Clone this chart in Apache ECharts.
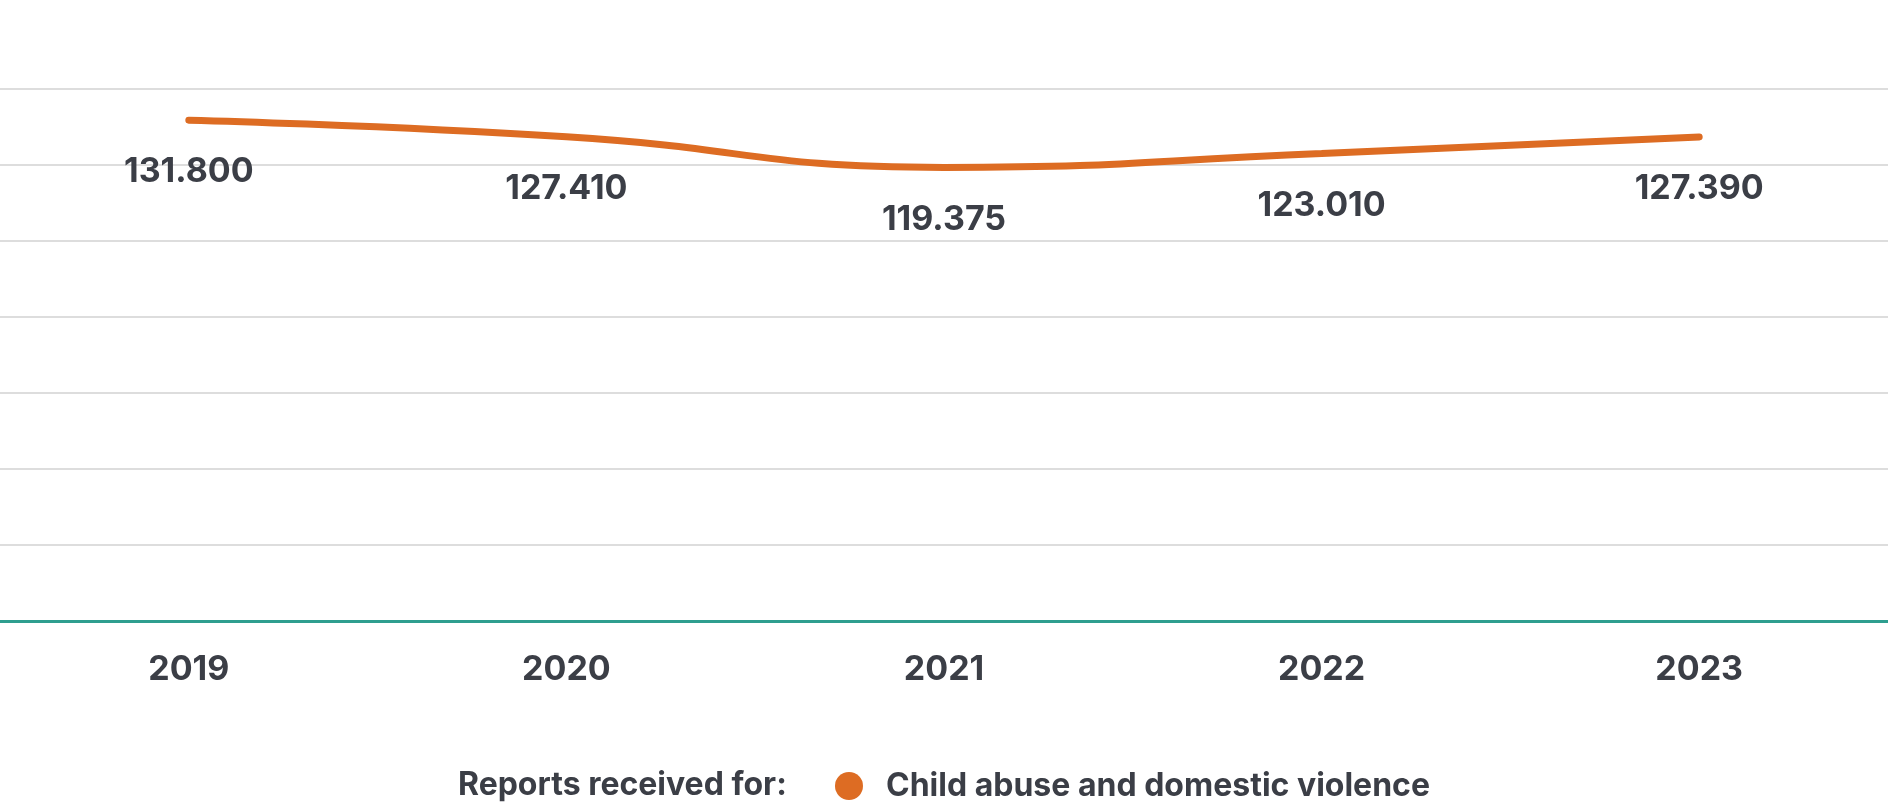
<!DOCTYPE html>
<html>
<head>
<meta charset="utf-8">
<script src="https://cdn.jsdelivr.net/npm/echarts@6/dist/echarts.min.js"></script>
<style>
html,body{margin:0;padding:0;background:#fff;}
#chart{width:1888px;height:803px;}
</style>
</head>
<body>
<div id="chart"></div>
<script>
const categories = ['2019', '2020', '2021', '2022', '2023'];
const reports = [131800, 127410, 119375, 123010, 127390];
const seriesName = 'Child abuse and domestic violence';
const legendTitle = 'Reports received for:';

function fmt(v) {
  return String(v).replace(/\B(?=(\d{3})+(?!\d))/g, '.');
}

const textColor = '#3b3e46';
const lineColor = '#dd6c23';
const fontFamily = 'Inter, "Noto Sans", sans-serif';

const chart = echarts.init(document.getElementById('chart'), null, {renderer: 'canvas'});
chart.setOption({
  backgroundColor: '#ffffff',
  animation: false,
  title: {
    text: legendTitle,
    left: 458,
    top: 767,
    textStyle: {color: textColor, fontFamily: fontFamily, fontWeight: 'bold', fontSize: 32, lineHeight: 36},
    padding: 0
  },
  legend: {
    data: [seriesName],
    left: 835,
    top: 770,
    padding: 0,
    icon: 'circle',
    itemWidth: 28,
    itemHeight: 28,
    selectedMode: false,
    itemStyle: {color: lineColor, opacity: 1},
    textStyle: {color: textColor, fontFamily: fontFamily, fontWeight: 'bold', fontSize: 32, padding: [0, 0, 0, 18]}
  },
  grid: {left: 0, right: 0, top: 89, bottom: 182, containLabel: false},
  xAxis: {
    type: 'category',
    data: categories,
    boundaryGap: true,
    axisLine: {show: true, lineStyle: {color: '#2e9e8f', width: 3}},
    axisTick: {show: false},
    axisLabel: {color: textColor, fontFamily: fontFamily, fontWeight: 'bold', fontSize: 34, margin: 32}
  },
  yAxis: {
    type: 'value',
    min: 0,
    max: 140000,
    interval: 20000,
    axisLine: {show: false},
    axisTick: {show: false},
    axisLabel: {show: false},
    splitLine: {show: true, lineStyle: {color: '#dddddd', width: 2}}
  },
  series: [{
    name: seriesName,
    type: 'line',
    data: reports,
    smooth: 0.5,
    symbol: 'circle',
    symbolSize: 1,
    showSymbol: true,
    itemStyle: {color: lineColor, opacity: 0},
    color: lineColor,
    lineStyle: {color: lineColor, width: 7, cap: 'round'},
    emphasis: {disabled: true},
    label: {
      show: true,
      position: 'inside',
      offset: [0, 52],
      formatter: p => fmt(p.value),
      color: textColor,
      opacity: 1,
      fontFamily: fontFamily,
      fontWeight: 'bold',
      fontSize: 34
    }
  }]
});
</script>
</body>
</html>
